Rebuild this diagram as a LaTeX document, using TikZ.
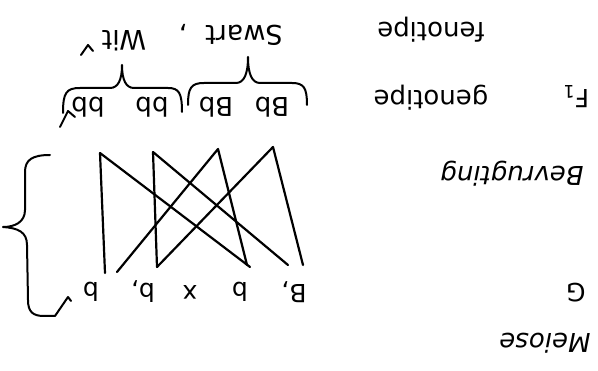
\documentclass[tikz,border=0pt]{standalone}
\usepackage{fontspec}
\setmainfont{DejaVu Sans}
\begin{document}
\begin{tikzpicture}[x=1pt,y=-1pt,
  lbl/.style={rotate=180, inner sep=0pt, font=\fontsize{26}{30}\selectfont},
  ilbl/.style={rotate=180, inner sep=0pt, font=\fontsize{26}{30}\selectfont\itshape},
  glbl/.style={rotate=180, inner sep=0pt, font=\fontsize{25}{28}\selectfont},
  ln/.style={line width=2.2pt, line cap=round, line join=round},
  brc/.style={line width=2pt, line cap=round, line join=round}]
\useasboundingbox (0,0) rectangle (598,371);

% right column labels
\node[lbl] (fen) at (431,30) {fenotipe};
\node[lbl] (gen) at (431,97.5) {genotipe};
\node[lbl, font=\fontsize{25}{30}\selectfont] (f1) at (576,97) {F\textsubscript{1}};
\node[ilbl] (bev) at (512,174) {Bevrugting};
\node[lbl, font=\fontsize{25}{30}\selectfont] (gg) at (576,293) {G};
\node[ilbl] (mei) at (545,343) {Meiose};

% phenotypes
\node[lbl, font=\fontsize{27}{30}\selectfont] (swart) at (244,35) {Swart};
\node[lbl, font=\fontsize{27}{30}\selectfont] (comma) at (183,28) {,};
\node[lbl, font=\fontsize{27}{30}\selectfont] (wit) at (124,41) {Wit};

% F1 genotypes
\node[lbl] (bb1) at (88,107) {bb};
\node[lbl] (bb2) at (152,107) {bb};
\node[lbl] (Bb1) at (216,107) {Bb};
\node[lbl] (Bb2) at (272,107) {Bb};

% gametes
\node[glbl] (g1) at (294,292) {B,};
\node[glbl] (g2) at (240,292) {b};
\node[glbl] (gx) at (190,292) {x};
\node[glbl] (g3) at (143,292) {b,};
\node[glbl] (g4) at (91,292) {b};

% line end points
\coordinate (A) at (100,153);
\coordinate (B) at (153,152);
\coordinate (C) at (218,149);
\coordinate (D) at (273,147);
\coordinate (a1) at (105,273);
\coordinate (a2) at (250,267);
\coordinate (b1) at (157,267);
\coordinate (b2) at (288,265);
\coordinate (c1) at (117,272);
\coordinate (c2) at (247,265);
\coordinate (d1) at (303,265);

\draw[ln] (a1) -- (A) -- (a2);
\draw[ln] (b2) -- (B) -- (b1) -- (D) -- (d1);
\draw[ln] (c1) -- (C) -- (c2);

% braces above F1 genotypes
\draw[brc] (63,113) .. controls (63,93) and (66,88) .. (80,88) -- (110,88)
  .. controls (118,88) and (122,80) .. (122,65)
  .. controls (122,80) and (126,88) .. (134,88) -- (168,88)
  .. controls (179,88) and (182,93) .. (182,112);
\draw[brc] (188,105) .. controls (188,88) and (191,83) .. (204,83) -- (236,83)
  .. controls (244,83) and (248,74) .. (248,57)
  .. controls (248,74) and (252,83) .. (260,83) -- (292,83)
  .. controls (304,83) and (307,88) .. (307,105);
\draw[brc] (60,127) -- (68,111) -- (75,117);
\draw[brc] (81,55) -- (88,45) -- (93,51);

% left brace
\draw[brc] (50,155) .. controls (32,155) and (25,160) .. (25,172) -- (25,210)
  .. controls (25,222) and (15,227) .. (3,227)
  .. controls (18,228) and (27,232) .. (27,245) -- (28,300)
  .. controls (28,312) and (33,316) .. (44,316) -- (55,316)
  -- (68,297) -- (71,301);
\end{tikzpicture}
\end{document}
